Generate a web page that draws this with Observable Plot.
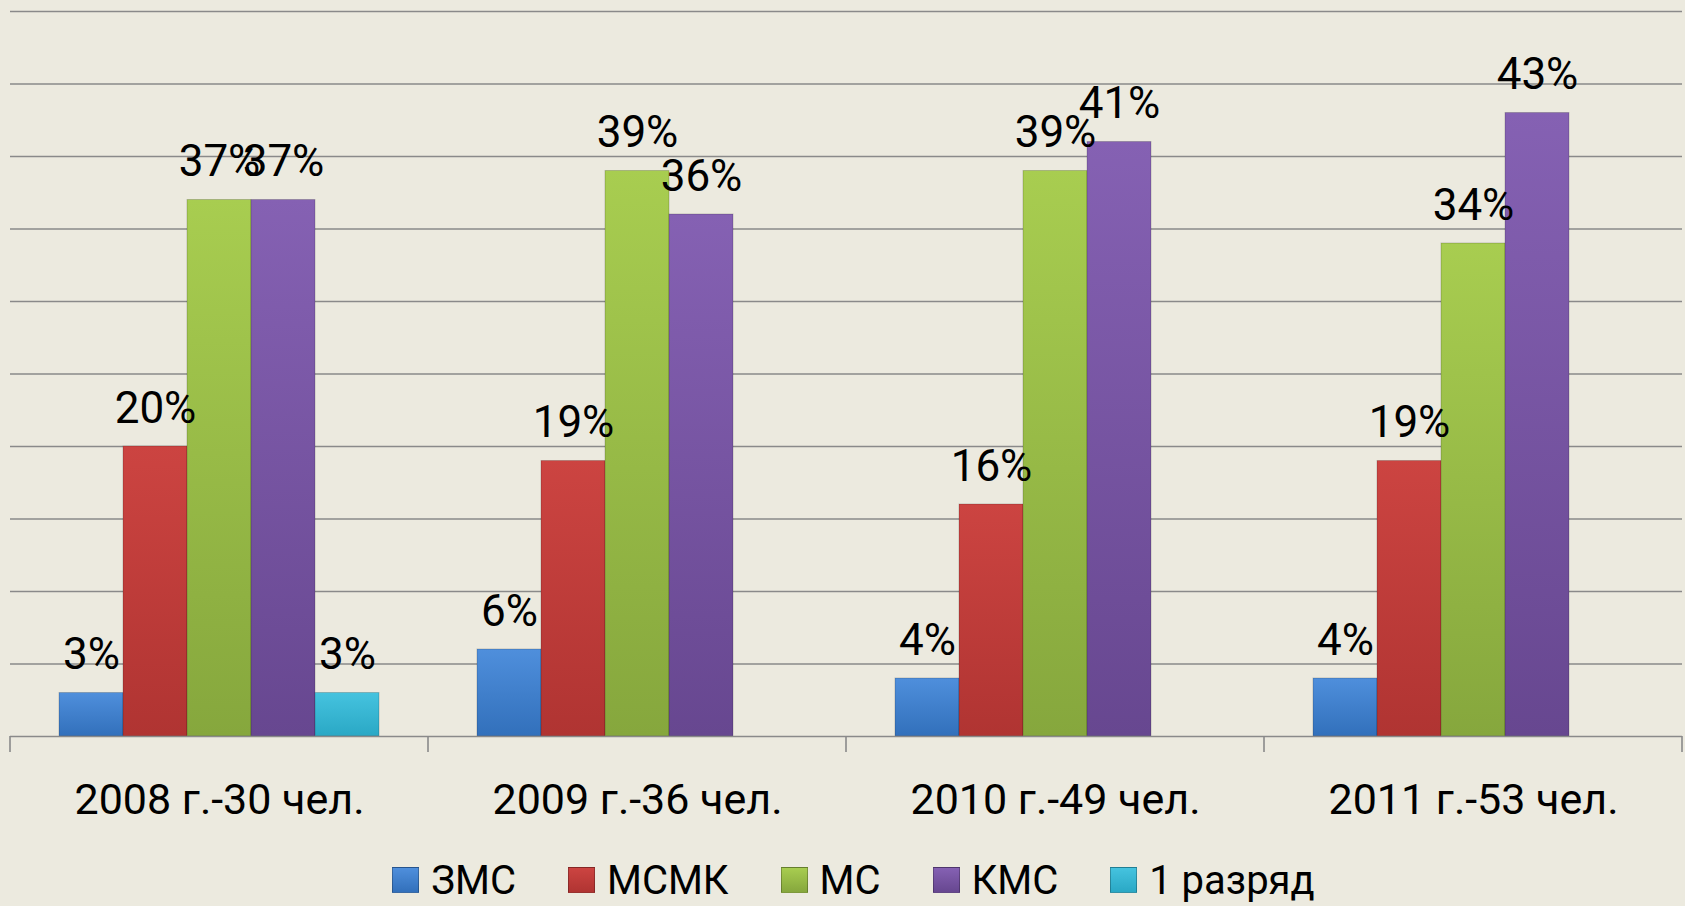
<!DOCTYPE html>
<html>
<head>
<meta charset="utf-8">
<script src="https://cdn.jsdelivr.net/npm/d3@7"></script>
<script src="https://cdn.jsdelivr.net/npm/@observablehq/plot@0.6"></script>
<style>
  html, body { margin: 0; padding: 0; background: #eceadf; overflow: hidden; }
  #chart svg { display: block; }
  #legend { display: flex; justify-content: center; align-items: center; height: 52px; padding-top: 14px; padding-left: 22px;
            font-family: Roboto, sans-serif; font-size: 40px; color: #000; }
  .item { display: flex; align-items: center; margin-right: 52px; }
  .item:last-child { margin-right: 0; }
  .sw { width: 27px; height: 26px; margin-right: 12px; box-sizing: border-box; border: 1px solid rgba(0,0,0,0.25); }
</style>
</head>
<body>
<div id="chart"></div>
<div id="legend"></div>
<script>
const years = ["2008 г.-30 чел.", "2009 г.-36 чел.", "2010 г.-49 чел.", "2011 г.-53 чел."];
const series = ["ЗМС", "МСМК", "МС", "КМС", "1 разряд"];
const zms = [3, 6, 4, 4];
const msmk = [20, 19, 16, 19];
const ms = [37, 39, 39, 34];
const kms = [37, 36, 41, 43];
const razryad = [3, null, null, null];
const gridTicks = [5, 10, 15, 20, 25, 30, 35, 40, 45, 50];

const seriesValues = [zms, msmk, ms, kms, razryad];
const topColors = ["#4f8fdc", "#cc4441", "#a8cd50", "#8561b3", "#45c3df"];
const bottomColors = ["#3270bb", "#b03432", "#86a73d", "#674790", "#2aa8c5"];
const gradIds = series.map((s, i) => "grad" + i);

const data = years.flatMap((yr, i) => series.map((s, j) => ({year: yr, series: s, value: seriesValues[j][i]})))
  .filter(d => d.value != null);

const defs = () => {
  const ns = "http://www.w3.org/2000/svg";
  const d = document.createElementNS(ns, "defs");
  series.forEach((s, i) => {
    const g = document.createElementNS(ns, "linearGradient");
    g.setAttribute("id", gradIds[i]);
    g.setAttribute("x1", "0"); g.setAttribute("y1", "0");
    g.setAttribute("x2", "0"); g.setAttribute("y2", "1");
    [[0, topColors[i]], [1, bottomColors[i]]].forEach(([o, c]) => {
      const st = document.createElementNS(ns, "stop");
      st.setAttribute("offset", o); st.setAttribute("stop-color", c);
      g.appendChild(st);
    });
    d.appendChild(g);
  });
  return d;
};

const gridColor = "#8a8a8a";

const chart = Plot.plot({
  width: 1685,
  height: 840,
  marginLeft: 10,
  marginRight: 3,
  marginTop: 11,
  marginBottom: 104,
  style: {background: "transparent", fontFamily: "Roboto, sans-serif", fontSize: "43px", color: "#000"},
  fx: {domain: years, paddingInner: 0, paddingOuter: 0, label: null, tickSize: 0, tickPadding: 47},
  x: {domain: series, paddingInner: 0, paddingOuter: 0.735, axis: null},
  y: {domain: [0, 50], axis: null},
  color: {domain: series, range: gradIds.map(id => `url(#${id})`)},
  marks: [
    defs,
    Plot.gridY(gridTicks, {stroke: gridColor, strokeOpacity: 1, strokeWidth: 1.6}),
    Plot.barY(data, {fx: "year", x: "series", y: "value", fill: "series", stroke: "rgba(0,0,0,0.18)", strokeWidth: 1}),
    Plot.text(data, {fx: "year", x: "series", y: "value", text: d => d.value + "%", lineAnchor: "bottom", dy: -24, fontSize: 44, fill: "#000"}),
    Plot.ruleY([0], {stroke: gridColor, strokeWidth: 1.6})
  ]
});
document.getElementById("chart").appendChild(chart);

// category boundary ticks from the fx scale
const fxs = chart.scale("fx");
const ys = chart.scale("y");
const y0 = ys.apply(0);
const bounds = years.map(y => fxs.apply(y)).concat([fxs.apply(years[years.length - 1]) + fxs.bandwidth]);
d3.select(chart).append("g").selectAll("line").data(bounds).join("line")
  .attr("x1", d => d).attr("x2", d => d).attr("y1", y0).attr("y2", y0 + 16)
  .attr("stroke", gridColor).attr("stroke-width", 1.6);

// legend
const legend = d3.select("#legend");
series.forEach((s, i) => {
  const it = legend.append("div").attr("class", "item");
  it.append("div").attr("class", "sw").style("background", `linear-gradient(${topColors[i]}, ${bottomColors[i]})`);
  it.append("span").text(s);
});
</script>
</body>
</html>
